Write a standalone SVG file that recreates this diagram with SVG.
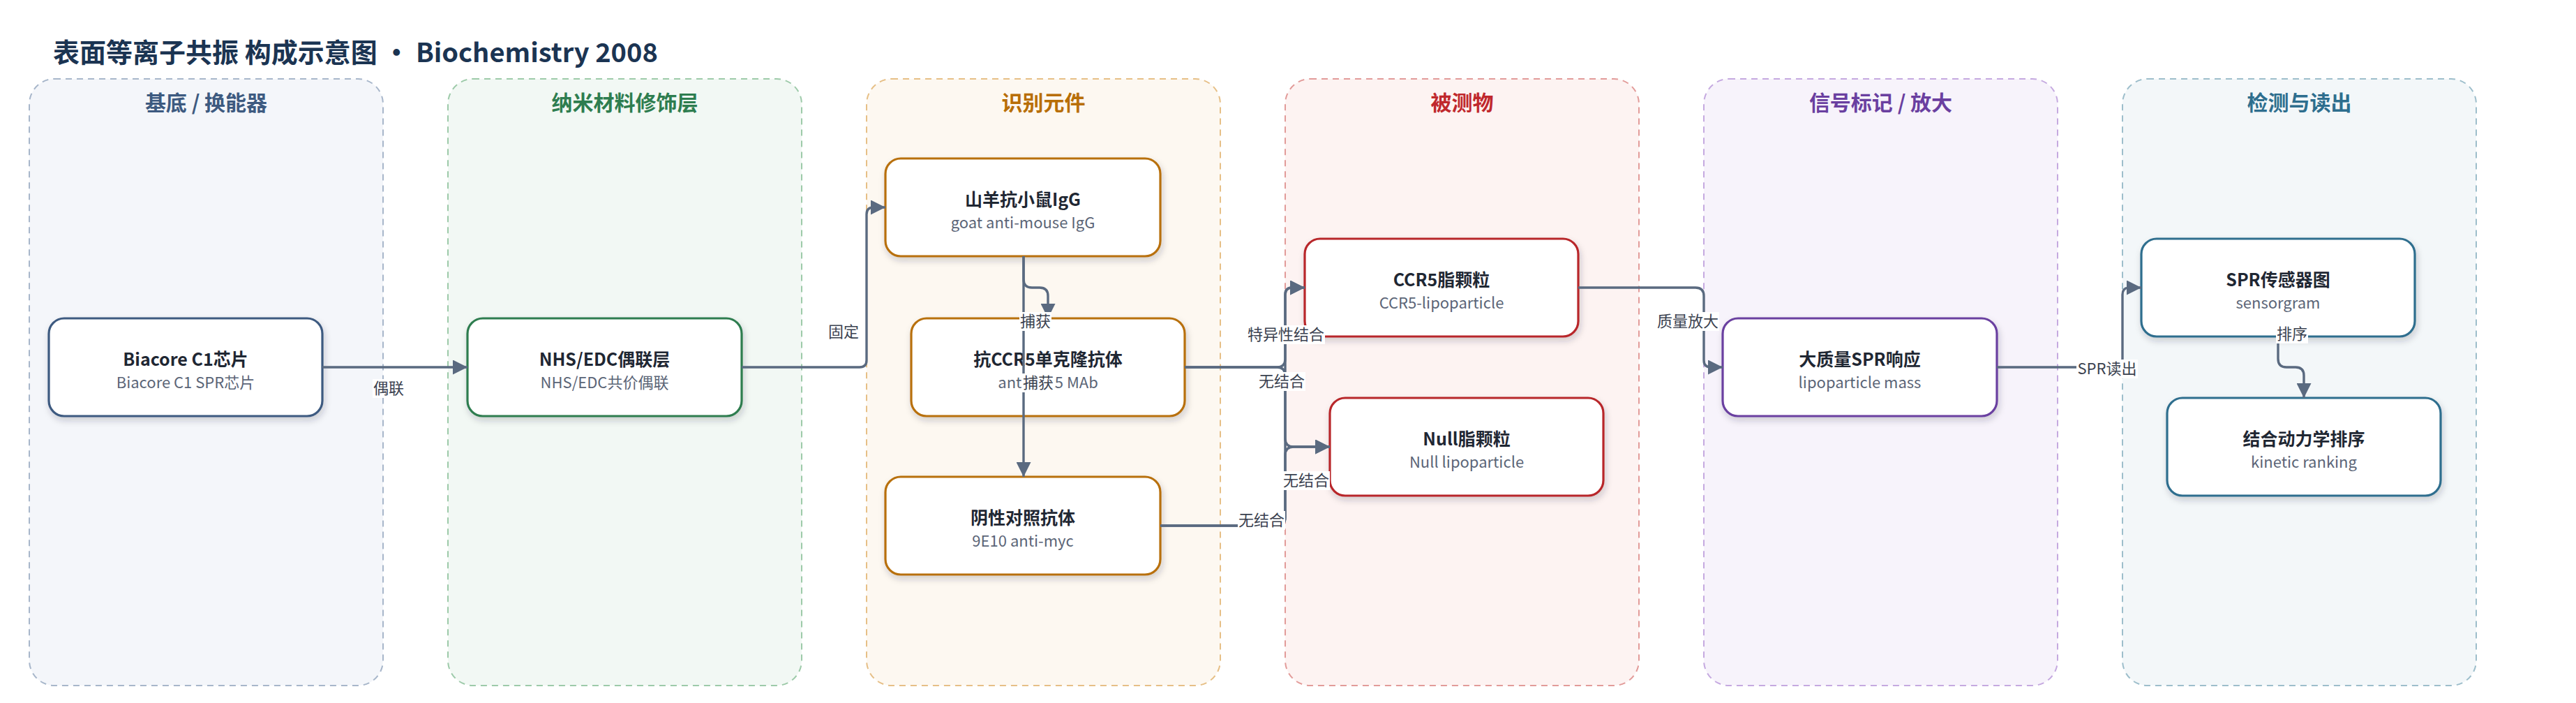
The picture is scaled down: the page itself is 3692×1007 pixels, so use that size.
<svg xmlns="http://www.w3.org/2000/svg" width="3692" height="1007" viewBox="0 0 3692 1007">
<defs>
<style>
text{font-family:"Noto Sans CJK SC","Noto Sans","Liberation Sans",sans-serif}
.title{font-size:38px;font-weight:700;fill:#1b3452}
.lane{stroke-width:2;stroke-dasharray:9 7}
.lh{font-size:30px;font-weight:700;text-anchor:middle}
.node{fill:#fff;stroke-width:3.2;filter:url(#sh)}
.nt{font-size:25px;font-weight:700;fill:#1f2733;text-anchor:middle}
.ns{font-size:22px;fill:#5b6577;text-anchor:middle}
.edge{fill:none;stroke:#5a6a80;stroke-width:3.4;marker-end:url(#ah)}
.lb{fill:#fff}
.lt{font-size:22px;fill:#3b4250;text-anchor:middle}
</style>
<filter id="sh" x="-10%" y="-10%" width="125%" height="140%">
<feDropShadow dx="2" dy="5" stdDeviation="5" flood-color="#1e2a3a" flood-opacity="0.2"/>
</filter>
<marker id="ah" markerUnits="userSpaceOnUse" viewBox="0 0 20 20" refX="20" refY="10" markerWidth="21" markerHeight="21" orient="auto">
<path d="M0,0 L20,10 L0,20 z" fill="#5a6a80"/>
</marker>
</defs>
<rect width="3692" height="1007" fill="#fff"/>
<text class="title" x="76" y="89">表面等离子共振 构成示意图 • Biochemistry 2008</text>

<g id="lanes">
<g id="lane-substrate"><rect class="lane" x="42" y="113" width="507" height="869" rx="36" fill="#f4f6fa" stroke="#a7b6ca"/><text class="lh" x="295.5" y="158" fill="#3d5a80">基底 / 换能器</text></g>
<g id="lane-nano"><rect class="lane" x="642" y="113" width="507" height="869" rx="36" fill="#f2f8f4" stroke="#9dcaa9"/><text class="lh" x="895.5" y="158" fill="#2e7d4f">纳米材料修饰层</text></g>
<g id="lane-recog"><rect class="lane" x="1242" y="113" width="507" height="869" rx="36" fill="#fdf8f1" stroke="#e6bf86"/><text class="lh" x="1495.5" y="158" fill="#b86e06">识别元件</text></g>
<g id="lane-analyte"><rect class="lane" x="1842" y="113" width="507" height="869" rx="36" fill="#fdf3f2" stroke="#e29b99"/><text class="lh" x="2095.5" y="158" fill="#c0282d">被测物</text></g>
<g id="lane-signal"><rect class="lane" x="2442" y="113" width="507" height="869" rx="36" fill="#f7f3fb" stroke="#c5a9e0"/><text class="lh" x="2695.5" y="158" fill="#6a3fa0">信号标记 / 放大</text></g>
<g id="lane-detect"><rect class="lane" x="3042" y="113" width="507" height="869" rx="36" fill="#f3f7f9" stroke="#9dbecb"/><text class="lh" x="3295.5" y="158" fill="#2e6e8e">检测与读出</text></g>
</g>

<g id="node-biacore"><rect class="node" x="70" y="456" width="392" height="140" rx="22" stroke="#3d5a80"/><text class="nt" x="266" y="524">Biacore C1芯片</text><text class="ns" x="266" y="556">Biacore C1 SPR芯片</text></g>
<g id="node-nhs"><rect class="node" x="670" y="456" width="393" height="140" rx="22" stroke="#2e7d4f"/><text class="nt" x="866.5" y="524">NHS/EDC偶联层</text><text class="ns" x="866.5" y="556">NHS/EDC共价偶联</text></g>
<g id="node-goat"><rect class="node" x="1269" y="227" width="394" height="140" rx="22" stroke="#b8700a"/><text class="nt" x="1466" y="295">山羊抗小鼠IgG</text><text class="ns" x="1466" y="327">goat anti-mouse IgG</text></g>
<g id="node-mab"><rect class="node" x="1306" y="456" width="392" height="140" rx="22" stroke="#b8700a"/><text class="nt" x="1502" y="524">抗CCR5单克隆抗体</text><text class="ns" x="1502" y="556">antiCCR5 MAb</text></g>
<g id="node-neg"><rect class="node" x="1269" y="683" width="394" height="140" rx="22" stroke="#b8700a"/><text class="nt" x="1466" y="751">阴性对照抗体</text><text class="ns" x="1466" y="783">9E10 anti-myc</text></g>
<g id="node-ccr5lp"><rect class="node" x="1870" y="342" width="392" height="140" rx="22" stroke="#b8282a"/><text class="nt" x="2066" y="410">CCR5脂颗粒</text><text class="ns" x="2066" y="442">CCR5-lipoparticle</text></g>
<g id="node-null"><rect class="node" x="1906" y="570" width="392" height="140" rx="22" stroke="#b8282a"/><text class="nt" x="2102" y="638">Null脂颗粒</text><text class="ns" x="2102" y="670">Null lipoparticle</text></g>
<g id="node-mass"><rect class="node" x="2469" y="456" width="393" height="140" rx="22" stroke="#6a3fa0"/><text class="nt" x="2665.5" y="524">大质量SPR响应</text><text class="ns" x="2665.5" y="556">lipoparticle mass</text></g>
<g id="node-sensorgram"><rect class="node" x="3069" y="342" width="392" height="140" rx="22" stroke="#2e6e8e"/><text class="nt" x="3265" y="410">SPR传感器图</text><text class="ns" x="3265" y="442">sensorgram</text></g>
<g id="node-kinetic"><rect class="node" x="3106" y="570" width="392" height="140" rx="22" stroke="#2e6e8e"/><text class="nt" x="3302" y="638">结合动力学排序</text><text class="ns" x="3302" y="670">kinetic ranking</text></g>

<g id="connectors">
<path class="edge" d="M462 526 H670"/>
<path class="edge" d="M1063 526 H1232 Q1242 526 1242 516 V307 Q1242 297 1252 297 H1269"/>
<path class="edge" d="M1467 367 V400 Q1467 412 1479 412 H1490 Q1502 412 1502 424 V456"/>
<path class="edge" d="M1467 367 V683"/>
<path class="edge" d="M1698 526 H1830 Q1842 526 1842 514 V422 Q1842 412 1852 412 H1870"/>
<path class="edge" d="M1698 526 H1830 Q1842 526 1842 538 V628 Q1842 640 1854 640 H1906"/>
<path class="edge" d="M1663 753 H1830 Q1842 753 1842 741 V422 Q1842 412 1852 412 H1870"/>
<path class="edge" d="M1663 753 H1830 Q1842 753 1842 741 V652 Q1842 640 1854 640 H1906"/>
<path class="edge" d="M2262 412 H2430 Q2442 412 2442 424 V516 Q2442 526 2452 526 H2469"/>
<path class="edge" d="M2862 526 H3030 Q3042 526 3042 514 V422 Q3042 412 3052 412 H3069"/>
<path class="edge" d="M3265 482 V514 Q3265 526 3277 526 H3290 Q3302 526 3302 538 V570"/>
<g id="edge-labels">
<rect class="lb" x="534" y="543" width="46" height="27"/><text class="lt" x="557" y="564">偶联</text>
<rect class="lb" x="1186" y="462" width="46" height="27"/><text class="lt" x="1209" y="483">固定</text>
<rect class="lb" x="1461" y="447" width="46" height="27"/><text class="lt" x="1484" y="468">捕获</text>
<rect class="lb" x="1465" y="535" width="46" height="27"/><text class="lt" x="1488" y="556">捕获</text>
<rect class="lb" x="1787" y="466" width="112" height="27"/><text class="lt" x="1843" y="487">特异性结合</text>
<rect class="lb" x="1803" y="533" width="68" height="27"/><text class="lt" x="1837" y="554">无结合</text>
<rect class="lb" x="1838" y="675" width="68" height="27"/><text class="lt" x="1872" y="696">无结合</text>
<rect class="lb" x="1774" y="732" width="68" height="27"/><text class="lt" x="1808" y="753">无结合</text>
<rect class="lb" x="2374" y="447" width="90" height="27"/><text class="lt" x="2419" y="468">质量放大</text>
<rect class="lb" x="2976" y="515" width="88" height="27"/><text class="lt" x="3020" y="536">SPR读出</text>
<rect class="lb" x="3262" y="465" width="46" height="27"/><text class="lt" x="3285" y="486">排序</text>
</g>
</g>
</svg>
